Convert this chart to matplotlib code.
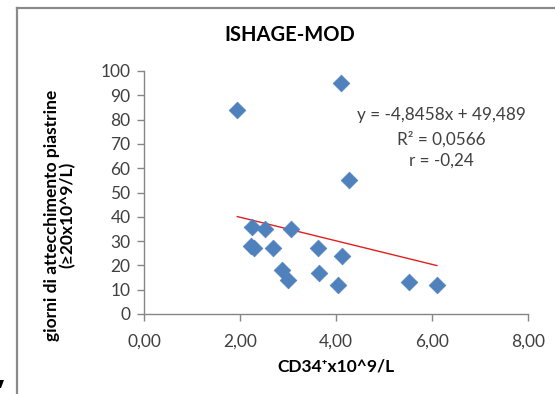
import matplotlib
matplotlib.use("Agg")
import matplotlib.pyplot as plt
from matplotlib.lines import Line2D
from matplotlib.patches import Polygon
import numpy as np

plt.rcParams['font.family'] = ['Lato', 'DejaVu Sans']

# Data
cd34 = [1.94, 4.11, 2.24, 2.51, 3.05, 2.22, 2.29, 2.69, 3.63, 4.13, 2.875, 2.99, 3.64, 4.03, 4.27, 5.52, 6.10]
giorni = [84, 95, 36, 35, 35, 28, 27, 27, 27, 24, 18, 14, 17, 12, 55, 13, 12]
slope = -4.8458
intercept = 49.489
x_ticks = [0, 2, 4, 6, 8]
x_ticklabels = ["0,00", "2,00", "4,00", "6,00", "8,00"]
y_ticks = [0, 10, 20, 30, 40, 50, 60, 70, 80, 90, 100]
title = "ISHAGE-MOD"
xlabel = "CD34\u207ax10^9/L"
ylabel = "giorni di attecchimento piastrine\n(\u226520x10^9/L)"
eq_lines = ["y = -4,8458x + 49,489", "R\u00b2 = 0,0566", "r = -0,24"]

W, H = 555, 394
fig = plt.figure(figsize=(W / 100, H / 100), dpi=100)
fig.patch.set_facecolor("white")

def fx(px):
    return px / W

def fy(py):
    return 1 - py / H

# chart border (gray) at left and top
fig.add_artist(Line2D([fx(17), fx(17)], [fy(8), 0], color="#8a8a8a", lw=1.6))
fig.add_artist(Line2D([fx(17), 1.0], [fy(8), fy(8)], color="#8a8a8a", lw=1.6))

# small clipped dark mark at bottom-left corner
fig.add_artist(Polygon([[fx(0), fy(380)], [fx(4), fy(380)], [fx(1), fy(388)], [fx(0), fy(388)]],
                       closed=True, facecolor="black", edgecolor="none", transform=fig.transFigure))

ax = fig.add_axes([fx(144.3), fy(314), fx(528) - fx(144.3), fy(71) - fy(314)])
ax.set_xlim(0, 8)
ax.set_ylim(0, 100)

ax.scatter(cd34, giorni, marker="D", s=72, color="#4F81BD", edgecolors="#4F81BD",
           linewidths=0.5, zorder=3, clip_on=False)

xs = np.array([min(cd34), max(cd34)])
ax.plot(xs, slope * xs + intercept, color="#E0201E", lw=1.0, zorder=2)

ax.set_xticks(x_ticks)
ax.set_xticklabels(x_ticklabels)
ax.set_yticks(y_ticks)

for s in ["top", "right"]:
    ax.spines[s].set_visible(False)
for s in ["left", "bottom"]:
    ax.spines[s].set_color("#868686")
    ax.spines[s].set_linewidth(1.0)
ax.tick_params(axis="both", direction="out", length=5, width=1.0, color="#868686",
               labelsize=12.5, labelcolor="#404040")
ax.tick_params(axis="x", pad=9)
ax.tick_params(axis="y", pad=5)

fig.text(fx(290), fy(35), title, ha="center", va="center", fontsize=14.5, fontweight="bold", color="black")
fig.text(fx(336), fy(366), xlabel, ha="center", va="center", fontsize=12.5, fontweight="bold", color="black")
fig.text(fx(60), fy(215), ylabel, ha="center", va="center", rotation=90, fontsize=12.5,
         fontweight="bold", color="black", linespacing=0.95, multialignment="center")

for txt, py in zip(eq_lines, [115, 139, 161]):
    fig.text(fx(441), fy(py), txt, ha="center", va="center", fontsize=12.3, color="#404040")

fig.savefig("out.png", dpi=100)
